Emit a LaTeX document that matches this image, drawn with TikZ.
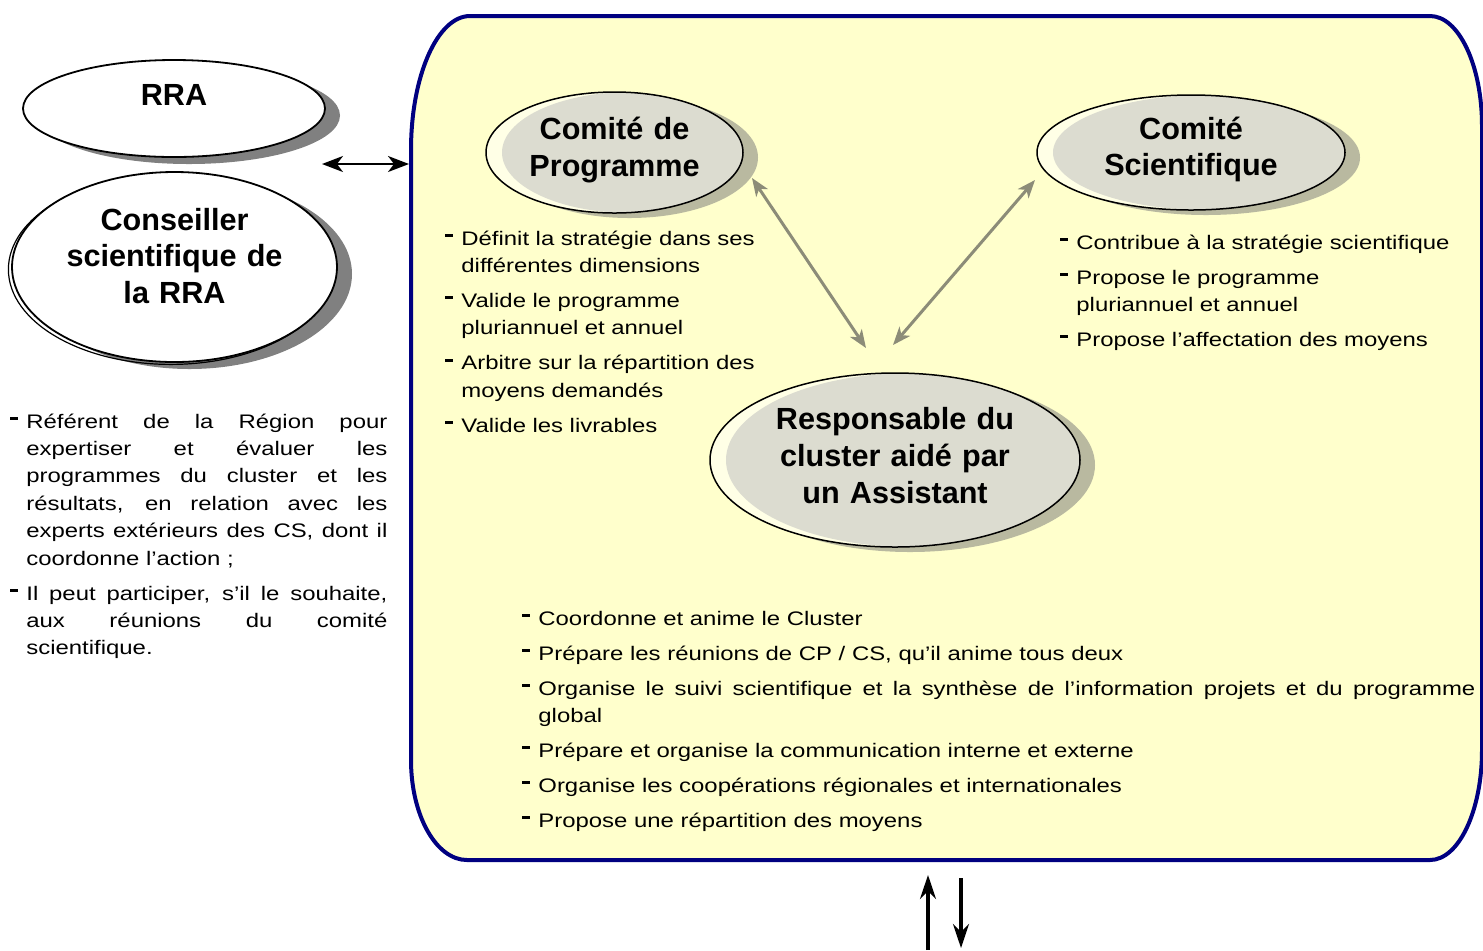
\documentclass[tikz,border=0pt]{standalone}
\usepackage{fontspec}
\setmainfont{Liberation Sans}
\newfontfamily\corps[FakeStretch=1.22]{Liberation Sans}
\usepackage{tikz}
\usetikzlibrary{arrows.meta,shapes.geometric,shadows,calc}

\definecolor{fondjaune}{HTML}{FFFFCC}
\definecolor{bleunuit}{HTML}{000080}
\definecolor{grisbulle}{HTML}{DCDCD0}
\definecolor{creme}{HTML}{FFFFE6}
\definecolor{ombrebulle}{HTML}{B9B9A0}
\definecolor{ombregrise}{HTML}{808080}
\definecolor{grisfleche}{HTML}{8C8C78}

\newcommand{\titre}{\fontsize{15.3}{18.4}\selectfont\bfseries}
\newcommand{\texte}{\corps\fontsize{9.8}{13.7}\selectfont}
\newcommand{\puce}[1]{\ifvmode\vspace{3.8pt}\fi\noindent\hangindent=8.5pt\hangafter=1\makebox[8.5pt][l]{\hspace{0.5pt}\rule[4.1pt]{4pt}{1.4pt}}#1\par}

\begin{document}
\begin{tikzpicture}[x=0.5pt, y=-0.5pt,
    boite/.style={draw=bleunuit, line width=2pt, fill=fondjaune},
    bulle/.style={ellipse, inner sep=0pt, align=center, font=\titre, text height=11pt},
    blanche/.style={bulle, draw, line width=0.9pt, fill=white,
        general shadow={fill=ombregrise, shadow xshift=7.5pt, shadow yshift=-3.5pt}},
    comite/.style={bulle, draw, line width=0.75pt, fill=creme,
        general shadow={fill=ombrebulle, shadow xshift=7.5pt, shadow yshift=-2.5pt},
        path picture={\path let \p1=($(path picture bounding box.north east)-(path picture bounding box.center)$) in
            [fill=grisbulle] ([xshift=8pt]path picture bounding box.center) ellipse [x radius=\x1, y radius=\y1];}},
    liste/.style={anchor=base west, inner sep=0pt, font=\texte},
    fleche/.style={line width=1pt, {Stealth[length=10.5pt,width=8pt,inset=3pt]}-{Stealth[length=10.5pt,width=8pt,inset=3pt]}},
    fleche grise/.style={draw=grisfleche, line width=1.5pt, {Stealth[length=9pt,width=7pt,inset=2.5pt]}-{Stealth[length=9pt,width=7pt,inset=2.5pt]}},
    fleche epaisse/.style={line width=1.6pt, -{Stealth[length=12pt,width=8pt,inset=4pt]}}
  ]
    \useasboundingbox (0,0) rectangle (1483,950);

    % cadre du cluster
    \draw[boite] (470,16) -- (1430,16) arc[start angle=-90, end angle=0, x radius=52, y radius=110]
        -- (1482,750) arc[start angle=0, end angle=90, x radius=52, y radius=110]
        -- (467,860) arc[start angle=90, end angle=180, x radius=56, y radius=100]
        -- (411,150) arc[start angle=180, end angle=270, x radius=59, y radius=134] -- cycle;

    % bulles
    \node[blanche, text width=40pt, text depth=14.5pt, minimum width=151pt, minimum height=48.5pt] (rra) at (174,108.5) {RRA};
    \node[blanche, text width=110pt, text depth=48pt, minimum width=162.5pt, minimum height=95pt,
        preaction={draw, line width=0.6pt, transform canvas={shift={(-1.8pt,-1.2pt)}}}] (conseiller) at (174.5,267) {Conseiller\\scientifique de\\la RRA};
    \node[comite, text width=86pt, text depth=24pt, minimum width=128.5pt, minimum height=60.5pt] (cp) at (614.5,152.5) {Comité de\\Programme};
    \node[comite, text width=88pt, text depth=24.5pt, minimum width=154pt, minimum height=57.5pt] (cs) at (1191,152.5) {Comité\\Scientifique};
    \node[comite, text width=120pt, text depth=41.5pt, minimum width=185pt, minimum height=87pt] (resp) at (895,460) {Responsable du\\cluster aidé par\\un Assistant};

    % fleches
    \coordinate (lien-g) at (322,164);
    \coordinate (lien-d) at (409,164);
    \coordinate (cp-bas) at (752,178);
    \coordinate (resp-g) at (866,348);
    \coordinate (cs-bas) at (1035,180);
    \coordinate (resp-d) at (893,345);
    \coordinate (montee-pied) at (928,950);
    \coordinate (montee-tete) at (928,875);
    \coordinate (descente-pied) at (961,878);
    \coordinate (descente-tete) at (961,948);

    \draw[fleche] (lien-g) -- (lien-d);
    \draw[fleche grise] (cp-bas) -- (resp-g);
    \draw[fleche grise] (cs-bas) -- (resp-d);
    \draw[fleche epaisse] (montee-pied) -- (montee-tete);
    \draw[fleche epaisse] (descente-pied) -- (descente-tete);

    % textes
    \node[liste, text width=189pt, align=justify] (conseiller-roles) at (9,428) {%
        \puce{Référent de la Région pour\linebreak expertiser et évaluer les\linebreak programmes du cluster et les\linebreak résultats, en relation avec les\linebreak experts extérieurs des CS, dont il\linebreak coordonne l’action~;}
        \puce{Il peut participer, s’il le souhaite,\linebreak aux réunions du comité\linebreak scientifique.}};
    \node[liste, text width=180pt, align=left] (cp-roles) at (444,245) {%
        \puce{Définit la stratégie dans ses\newline différentes dimensions}
        \puce{Valide le programme\newline pluriannuel et annuel}
        \puce{Arbitre sur la répartition des\newline moyens demandés}
        \puce{Valide les livrables}};
    \node[liste, text width=210pt, align=left] (cs-roles) at (1059,249) {%
        \puce{Contribue à la stratégie scientifique}
        \puce{Propose le programme\newline pluriannuel et annuel}
        \puce{Propose l’affectation des moyens}};
    \node[liste, text width=477pt, align=justify] (resp-roles) at (521,625) {%
        \puce{Coordonne et anime le Cluster}
        \puce{Prépare les réunions de CP / CS, qu’il anime tous deux}
        \puce{Organise le suivi scientifique et la synthèse de l’information projets et du programme\linebreak global}
        \puce{Prépare et organise la communication interne et externe}
        \puce{Organise les coopérations régionales et internationales}
        \puce{Propose une répartition des moyens}};
\end{tikzpicture}
\end{document}
